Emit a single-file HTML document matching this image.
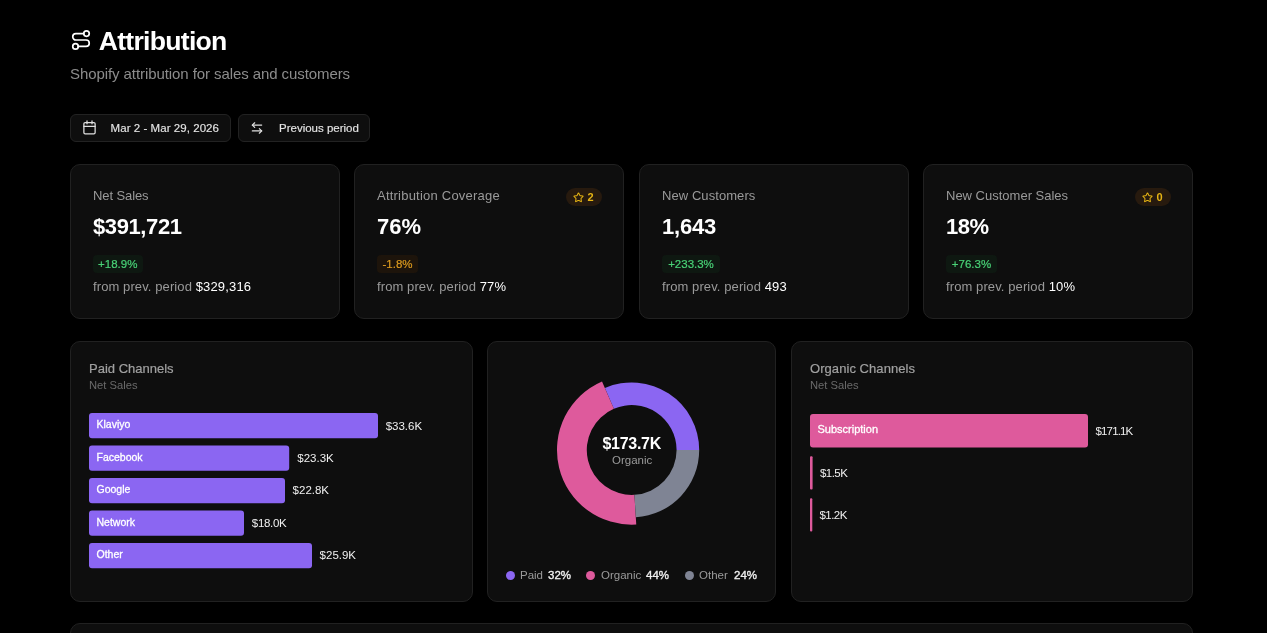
<!DOCTYPE html>
<html>
<head>
<meta charset="utf-8">
<title>Attribution</title>
<style>
*{box-sizing:border-box;margin:0;padding:0}
html,body{width:1267px;height:633px;overflow:hidden;background:#000;}
body{font-family:"Liberation Sans",sans-serif;color:#fff;position:relative;-webkit-font-smoothing:antialiased}
.abs{position:absolute;white-space:nowrap;line-height:1}
.card{position:absolute;background:#0e0e0e;border:1px solid #212121;border-radius:10px}
.btn{position:absolute;background:#0e0e0e;border:1px solid #222;border-radius:6px;height:28px;top:114px}
.h1{font-weight:700;font-size:26.6px;color:#fff;letter-spacing:-0.72px}
.sub{font-size:15px;color:#8c8c8c;letter-spacing:-0.08px}
.btxt{font-size:11.5px;color:#e4e4e4;-webkit-text-stroke:0.15px #e4e4e4}
.klabel{font-size:13px;color:#9a9a9a}
.kval{font-size:22px;font-weight:700;color:#fff}
.chip{position:absolute;height:18px;border-radius:4px;font-size:11.5px;line-height:19px;text-align:center;white-space:nowrap;-webkit-text-stroke:0.2px currentColor}
.chip.g{background:#0e1811;color:#49d277}
.chip.o{background:#1d140b;color:#dc9a1e}
.from{font-size:13px;color:#9a9a9a;letter-spacing:0.1px}
.from b{font-weight:400;color:#fff;letter-spacing:0.15px}
.star{position:absolute;height:18px;border-radius:9px;background:#271a0e;color:#e6b414;font-size:11px;font-weight:700;top:188px;width:36px}
.star svg{position:absolute;left:6.8px;top:3.5px}
.star span{position:absolute;left:21.5px;top:4px;line-height:1}
.ctitle{font-size:13px;color:#a0a0a0;-webkit-text-stroke:0.2px #a0a0a0}
.csub{font-size:11.2px;color:#6a6a6a}
.bar{position:absolute;background:#8b66f2;border-radius:3px;left:89px;height:25px}
.blab{font-size:10.5px;font-weight:400;-webkit-text-stroke:0.3px #fff;color:#fff;line-height:1;white-space:nowrap}
.bval{font-size:11.5px;color:#f0f0f0}
.pbar{position:absolute;background:#de5a9c;border-radius:3px}
.leg{font-size:11.5px;color:#9a9a9a}
.legv{font-size:11.5px;color:#f0f0f0;font-weight:400;-webkit-text-stroke:0.35px #f0f0f0}
.dot{position:absolute;width:9px;height:9px;border-radius:50%;top:571px}
</style>
</head>
<body>
<div id="root" style="position:absolute;left:0;top:0;width:1267px;height:633px;will-change:transform;overflow:hidden">

<!-- header -->
<svg class="abs" style="left:69.8px;top:28.9px" width="22" height="22" viewBox="0 0 24 24" fill="none" stroke="#fff" stroke-width="1.85" stroke-linecap="round" stroke-linejoin="round"><circle cx="6" cy="19" r="3"/><path d="M9 19h8.5a3.5 3.5 0 0 0 0-7h-11a3.5 3.5 0 0 1 0-7H15"/><circle cx="18" cy="5" r="3"/></svg>
<div id="h1" class="abs h1" style="left:98.7px;top:27.5px">Attribution</div>
<div id="sub" class="abs sub" style="left:70px;top:65.7px">Shopify attribution for sales and customers</div>

<!-- buttons -->
<div class="btn" style="left:70px;width:161px"></div>
<svg class="abs" style="left:81.7px;top:120.2px" width="15" height="15" viewBox="0 0 24 24" fill="none" stroke="#e0e0e0" stroke-width="2" stroke-linecap="round" stroke-linejoin="round"><path d="M8 1.5v4.5"/><path d="M16 1.5v4.5"/><rect width="18" height="18" x="3" y="4" rx="2"/><path d="M3 10h18"/></svg>
<div id="b1" class="abs btxt" style="left:110.6px;top:123px;letter-spacing:0.05px">Mar 2 - Mar 29, 2026</div>
<div class="btn" style="left:238px;width:132px"></div>
<svg class="abs" style="left:250px;top:121px" width="14" height="14" viewBox="0 0 24 24" fill="none" stroke="#e0e0e0" stroke-width="2" stroke-linecap="round" stroke-linejoin="round"><path d="M8 3 4 7l4 4"/><path d="M4 7h16"/><path d="m16 21 4-4-4-4"/><path d="M20 17H4"/></svg>
<div id="b2" class="abs btxt" style="left:279px;top:123px">Previous period</div>

<!-- KPI cards -->
<div class="card" style="left:70px;top:164px;width:270px;height:155px"></div>
<div class="card" style="left:354px;top:164px;width:270px;height:155px"></div>
<div class="card" style="left:639px;top:164px;width:270px;height:155px"></div>
<div class="card" style="left:923px;top:164px;width:270px;height:155px"></div>

<div id="k1l" class="abs klabel" style="letter-spacing:-0.1px;left:93px;top:189px">Net Sales</div>
<div id="k1v" class="abs kval" style="letter-spacing:-0.4px;left:93px;top:216px">$391,721</div>
<div id="k1c" class="chip g" style="left:93px;top:255px;width:49.5px">+18.9%</div>
<div id="k1f" class="abs from" style="left:93px;top:280px">from prev. period <b>$329,316</b></div>

<div id="k2l" class="abs klabel" style="letter-spacing:0.22px;left:377px;top:189px">Attribution Coverage</div>
<div id="k2v" class="abs kval" style="left:377px;top:216px">76%</div>
<div id="k2c" class="chip o" style="left:377px;top:255px;width:41px">-1.8%</div>
<div id="k2f" class="abs from" style="left:377px;top:280px">from prev. period <b>77%</b></div>
<div class="star" style="left:566px"><svg width="11" height="11" viewBox="0 0 24 24" fill="none" stroke="#e6b414" stroke-width="2.2" stroke-linecap="round" stroke-linejoin="round"><path d="M11.525 2.295a.53.53 0 0 1 .95 0l2.31 4.679a2.123 2.123 0 0 0 1.595 1.16l5.166.756a.53.53 0 0 1 .294.904l-3.736 3.638a2.123 2.123 0 0 0-.611 1.878l.882 5.14a.53.53 0 0 1-.771.56l-4.618-2.428a2.122 2.122 0 0 0-1.973 0L6.396 21.01a.53.53 0 0 1-.77-.56l.881-5.139a2.122 2.122 0 0 0-.611-1.879L2.16 9.795a.53.53 0 0 1 .294-.906l5.165-.755a2.122 2.122 0 0 0 1.597-1.16z"/></svg><span>2</span></div>

<div id="k3l" class="abs klabel" style="letter-spacing:0.07px;left:662px;top:189px">New Customers</div>
<div id="k3v" class="abs kval" style="letter-spacing:-0.2px;left:662px;top:216px">1,643</div>
<div id="k3c" class="chip g" style="left:662px;top:255px;width:58px">+233.3%</div>
<div id="k3f" class="abs from" style="left:662px;top:280px">from prev. period <b>493</b></div>

<div id="k4l" class="abs klabel" style="left:946px;top:189px">New Customer Sales</div>
<div id="k4v" class="abs kval" style="letter-spacing:-0.5px;left:946px;top:216px">18%</div>
<div id="k4c" class="chip g" style="left:946px;top:255px;width:51px">+76.3%</div>
<div id="k4f" class="abs from" style="left:946px;top:280px">from prev. period <b>10%</b></div>
<div class="star" style="left:1135px"><svg width="11" height="11" viewBox="0 0 24 24" fill="none" stroke="#e6b414" stroke-width="2.2" stroke-linecap="round" stroke-linejoin="round"><path d="M11.525 2.295a.53.53 0 0 1 .95 0l2.31 4.679a2.123 2.123 0 0 0 1.595 1.16l5.166.756a.53.53 0 0 1 .294.904l-3.736 3.638a2.123 2.123 0 0 0-.611 1.878l.882 5.14a.53.53 0 0 1-.771.56l-4.618-2.428a2.122 2.122 0 0 0-1.973 0L6.396 21.01a.53.53 0 0 1-.77-.56l.881-5.139a2.122 2.122 0 0 0-.611-1.879L2.16 9.795a.53.53 0 0 1 .294-.906l5.165-.755a2.122 2.122 0 0 0 1.597-1.16z"/></svg><span>0</span></div>

<!-- row 2 cards -->
<div class="card" style="left:70px;top:341px;width:403px;height:261px"></div>
<div class="card" style="left:487px;top:341px;width:289px;height:261px"></div>
<div class="card" style="left:791px;top:341px;width:402px;height:261px"></div>
<div class="card" style="left:70px;top:623px;width:1123px;height:40px"></div>

<!-- paid -->
<div id="p_t" class="abs ctitle" style="left:89px;top:362px">Paid Channels</div>
<div id="p_s" class="abs csub" style="left:89px;top:380px">Net Sales</div>
<svg class="abs" style="left:0;top:0" width="1267" height="633" viewBox="0 0 1267 633"><rect x="89" y="413.1" width="289" height="25.2" rx="3" fill="#8b66f2"/><rect x="89" y="445.6" width="200.2" height="25.2" rx="3" fill="#8b66f2"/><rect x="89" y="478.05" width="196" height="25.2" rx="3" fill="#8b66f2"/><rect x="89" y="510.5" width="155" height="25.2" rx="3" fill="#8b66f2"/><rect x="89" y="542.95" width="223" height="25.2" rx="3" fill="#8b66f2"/><rect x="810" y="414" width="278" height="33.5" rx="3" fill="#de5a9c"/><rect x="810" y="456.2" width="2.6" height="33.2" rx="1" fill="#de5a9c"/><rect x="810" y="498.2" width="2.3" height="33.2" rx="1" fill="#de5a9c"/></svg>
<div class="abs blab" style="left:96.5px;top:419.3px">Klaviyo</div>
<div class="abs blab" style="left:96.5px;top:451.8px">Facebook</div>
<div class="abs blab" style="left:96.5px;top:484.2px">Google</div>
<div class="abs blab" style="left:96.5px;top:516.7px">Network</div>
<div class="abs blab" style="left:96.5px;top:549.2px">Other</div>
<div id="pv1" class="abs bval" style="left:385.7px;top:421px">$33.6K</div>
<div id="pv2" class="abs bval" style="left:297.3px;top:453.4px">$23.3K</div>
<div id="pv3" class="abs bval" style="left:292.6px;top:485px">$22.8K</div>
<div id="pv4" class="abs bval" style="left:251.8px;top:518px;letter-spacing:-0.3px">$18.0K</div>
<div id="pv5" class="abs bval" style="left:319.6px;top:550.4px">$25.9K</div>

<!-- organic -->
<div id="o_t" class="abs ctitle" style="letter-spacing:0.06px;left:810px;top:362px">Organic Channels</div>
<div id="o_s" class="abs csub" style="left:810px;top:380px">Net Sales</div>
<div id="o_l" class="abs" style="left:817.5px;top:424px;font-size:11px;font-weight:400;-webkit-text-stroke:0.3px #fff">Subscription</div>
<div id="ov1" class="abs bval" style="left:1095.5px;top:426px;letter-spacing:-0.85px">$171.1K</div>
<div id="ov2" class="abs bval" style="left:820px;top:468px;letter-spacing:-0.55px">$1.5K</div>
<div id="ov3" class="abs bval" style="left:819.5px;top:510px;letter-spacing:-0.55px">$1.2K</div>

<!-- donut -->
<svg class="abs" style="left:487px;top:341px" width="289" height="261" viewBox="487 341 289 261">
<g id="donut"><path fill="#8b66f2" d="M699.20 450.00A67.5 67.5 0 0 0 604.89 388.05L613.87 408.79A44.9 44.9 0 0 1 676.60 450.00Z"/><path fill="#de5a9c" d="M602.03 381.44A74.7 74.7 0 0 0 636.26 524.56L634.44 494.82A44.9 44.9 0 0 1 613.87 408.79Z"/><path fill="#7f8494" d="M635.82 517.37A67.5 67.5 0 0 0 699.20 450.00L676.60 450.00A44.9 44.9 0 0 1 634.44 494.82Z"/></g>
</svg>
<div id="d_v" class="abs" style="left:602.5px;top:435.8px;font-size:16px;font-weight:700;letter-spacing:-0.3px">$173.7K</div>
<div id="d_l" class="abs" style="left:612px;top:455px;font-size:11.5px;color:#9a9a9a">Organic</div>

<div class="dot" style="left:506px;background:#8b66f2"></div>
<div id="l1" class="abs leg" style="left:520px;top:570px">Paid</div>
<div id="l1v" class="abs legv" style="left:548px;top:570px">32%</div>
<div class="dot" style="left:586px;background:#de5a9c"></div>
<div id="l2" class="abs leg" style="left:601px;top:570px">Organic</div>
<div id="l2v" class="abs legv" style="left:646px;top:570px">44%</div>
<div class="dot" style="left:685px;background:#7f8494"></div>
<div id="l3" class="abs leg" style="left:699px;top:570px">Other</div>
<div id="l3v" class="abs legv" style="left:734px;top:570px">24%</div>

</div>
</body>
</html>
